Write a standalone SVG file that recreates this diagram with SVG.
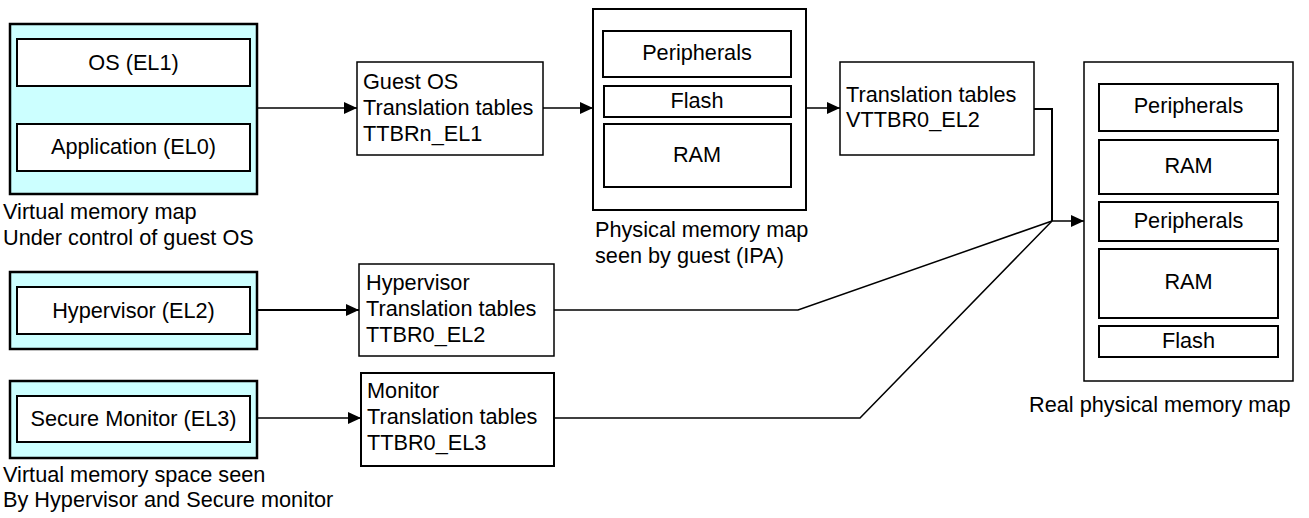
<svg xmlns="http://www.w3.org/2000/svg" width="1309" height="518" viewBox="0 0 1309 518">
<style>
text{font-family:"Liberation Sans",Arial,sans-serif;font-size:21.7px;fill:#000}
.c{text-anchor:middle}
.cy{fill:#ccffff;stroke:#000;stroke-width:2.5}
.in{fill:#fff;stroke:#000;stroke-width:2}
.bx{fill:#fff;stroke:#000;stroke-width:1.5}
.bx2{fill:#fff;stroke:#000;stroke-width:2}
.ln{fill:none;stroke:#000;stroke-width:1.5}
</style>
<defs>
<marker id="ah" markerUnits="userSpaceOnUse" markerWidth="14" markerHeight="12" refX="13" refY="6" orient="auto">
<path d="M0,0 L13,6 L0,12 Z" fill="#000"/>
</marker>
</defs>
<rect width="1309" height="518" fill="#fff"/>

<g id="vm-guest">
<rect class="cy" x="10" y="24" width="247" height="170"/>
<rect class="in" x="17" y="39" width="233" height="47"/>
<text class="c" x="133.5" y="70">OS (EL1)</text>
<rect class="in" x="17" y="124" width="233" height="47"/>
<text class="c" x="133.5" y="154">Application (EL0)</text>
<text x="3" y="219">Virtual memory map</text>
<text x="3" y="245">Under control of guest OS</text>
</g>

<g id="guest-tt">
<rect class="bx" x="357" y="62" width="186" height="93"/>
<text x="363" y="89">Guest OS</text>
<text x="363" y="115">Translation tables</text>
<text x="363" y="141">TTBRn_EL1</text>
</g>

<g id="ipa-map">
<rect class="bx2" x="593" y="9" width="213" height="201"/>
<rect class="in" x="603" y="31" width="188" height="46"/>
<text class="c" x="697" y="60">Peripherals</text>
<rect class="in" x="604" y="86" width="187" height="31"/>
<text class="c" x="697" y="108">Flash</text>
<rect class="in" x="604" y="124" width="187" height="63"/>
<text class="c" x="697" y="162">RAM</text>
<text x="595" y="237">Physical memory map</text>
<text x="595" y="263">seen by guest (IPA)</text>
</g>

<g id="stage2-tt">
<rect class="bx" x="840" y="62" width="194" height="93"/>
<text x="846" y="102">Translation tables</text>
<text x="846" y="127">VTTBR0_EL2</text>
</g>

<g id="real-map">
<rect class="bx" x="1084" y="62" width="209" height="319"/>
<rect class="in" x="1099" y="84" width="179" height="47"/>
<text class="c" x="1188.5" y="113">Peripherals</text>
<rect class="in" x="1099" y="140" width="179" height="54"/>
<text class="c" x="1188.5" y="173">RAM</text>
<rect class="in" x="1099" y="202" width="179" height="39"/>
<text class="c" x="1188.5" y="228">Peripherals</text>
<rect class="in" x="1099" y="249" width="179" height="69"/>
<text class="c" x="1188.5" y="289">RAM</text>
<rect class="in" x="1099" y="326" width="179" height="31"/>
<text class="c" x="1188.5" y="348">Flash</text>
<text x="1029" y="412">Real physical memory map</text>
</g>

<g id="vm-hyp">
<rect class="cy" x="10" y="272" width="247" height="77"/>
<rect class="in" x="17" y="287" width="233" height="47"/>
<text class="c" x="133.5" y="318">Hypervisor (EL2)</text>
</g>

<g id="hyp-tt">
<rect class="bx" x="359" y="264" width="195" height="92"/>
<text x="366" y="290">Hypervisor</text>
<text x="366" y="316">Translation tables</text>
<text x="366" y="342">TTBR0_EL2</text>
</g>

<g id="vm-mon">
<rect class="cy" x="10" y="381" width="247" height="77"/>
<rect class="in" x="17" y="396" width="233" height="46"/>
<text class="c" x="133.5" y="426">Secure Monitor (EL3)</text>
<text x="3" y="482">Virtual memory space seen</text>
<text x="3" y="507">By Hypervisor and Secure monitor</text>
</g>

<g id="mon-tt">
<rect class="bx2" x="361" y="373" width="193" height="93"/>
<text x="367" y="398">Monitor</text>
<text x="367" y="424">Translation tables</text>
<text x="367" y="450">TTBR0_EL3</text>
</g>

<g id="connectors">
<line class="ln" x1="257" y1="108" x2="357" y2="108" marker-end="url(#ah)"/>
<line class="ln" x1="543" y1="108" x2="593" y2="108" marker-end="url(#ah)"/>
<line class="ln" x1="806" y1="108" x2="840" y2="108" marker-end="url(#ah)"/>
<polyline class="ln" points="1034,109 1052,109 1052,221" style="stroke-width:2"/>
<line class="ln" x1="1052" y1="221" x2="1084" y2="221" marker-end="url(#ah)"/>
<line class="ln" x1="257" y1="310" x2="359" y2="310" style="stroke-width:2" marker-end="url(#ah)"/>
<polyline class="ln" points="554,310 798,310 1052,221"/>
<line class="ln" x1="257" y1="418" x2="361" y2="418" marker-end="url(#ah)"/>
<polyline class="ln" points="554,418 860,418 1052,221"/>
</g>
</svg>
